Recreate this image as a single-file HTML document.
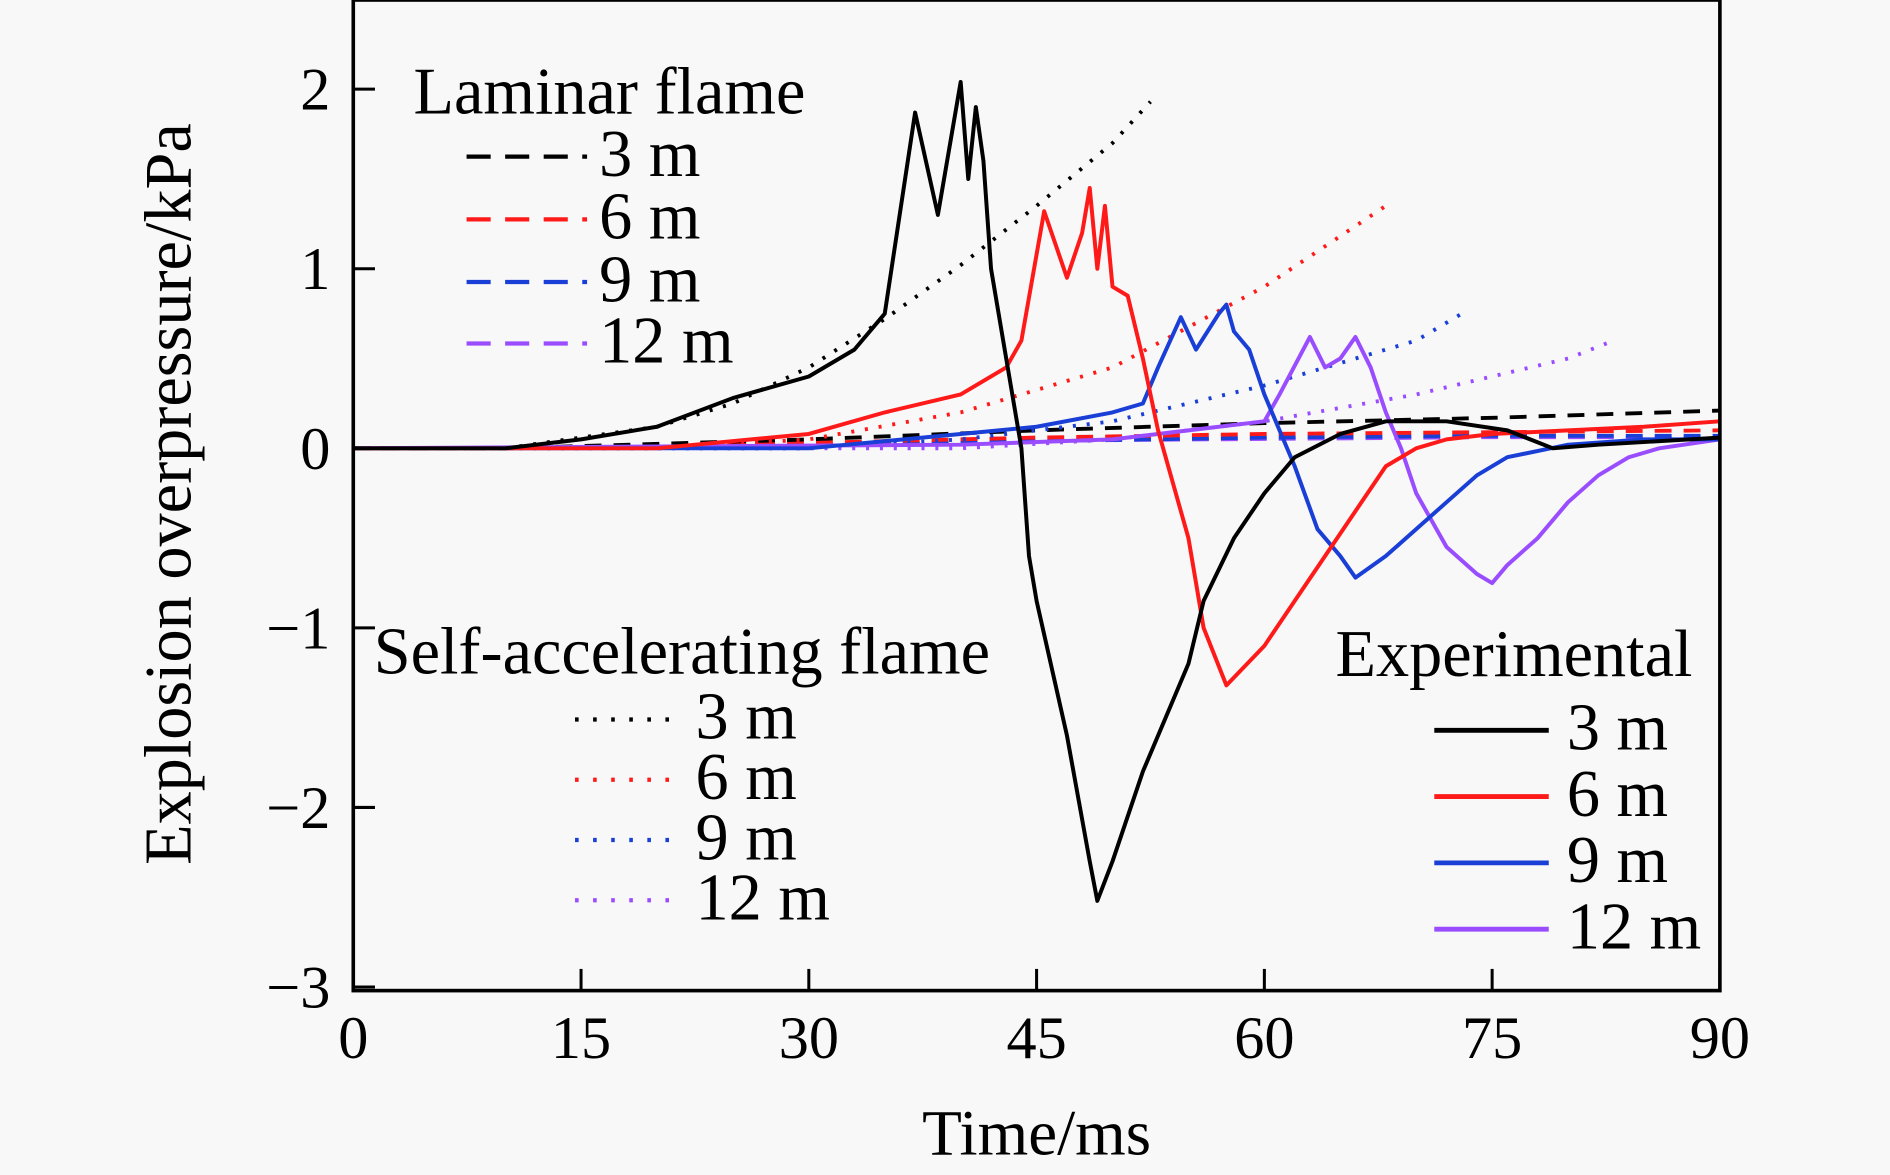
<!DOCTYPE html>
<html><head><meta charset="utf-8"><style>
html,body{margin:0;padding:0;background:#f8f8f8;}
svg{display:block;font-family:"Liberation Serif",serif;}
</style></head><body>
<svg id="chart" width="1890" height="1175" viewBox="0 0 1568 975" xmlns="http://www.w3.org/2000/svg">
<rect x="0" y="0" width="1568" height="975" fill="#f8f8f8"/>
<g id="plot"></g>
<g id="axes"></g>
<g id="legends"></g>
</svg>
<script>
const xTicks=[0,15,30,45,60,75,90];
const yTicks=[2,1,0,-1,-2,-3];
const yTickLabels=["2","1","0","\u22121","\u22122","\u22123"];
const seriesNames=["3 m","6 m","9 m","12 m"];
const colors=["#000000","#ff1a1a","#1a3fd6","#9a4dff"];
const expT3=[0,10,15,20,25,30,33,35,37,38.5,40,40.5,41,41.5,42,43,44,44.5,45,47,48.5,49,50,52,55,56,58,60,62,65,68,72,76,79,82,90];
const expP3=[0,0,0.05,0.12,0.28,0.4,0.55,0.75,1.87,1.3,2.04,1.5,1.9,1.6,1.0,0.5,0,-0.6,-0.85,-1.6,-2.3,-2.52,-2.3,-1.8,-1.2,-0.85,-0.5,-0.25,-0.05,0.08,0.15,0.15,0.1,0,0.02,0.06];
const expT6=[0,20,30,35,40,43,44,45.5,47,48,48.5,49,49.5,50,51,52,53,54,55,56,57.5,60,62,64,66,68,70,72,75,80,85,90];
const expP6=[0,0,0.08,0.2,0.3,0.45,0.6,1.32,0.95,1.2,1.45,1.0,1.35,0.9,0.85,0.5,0.1,-0.2,-0.5,-1.0,-1.32,-1.1,-0.85,-0.6,-0.35,-0.1,0,0.05,0.08,0.1,0.12,0.15];
const expT9=[0,30,40,45,50,52,53,54.5,55.5,57,57.5,58,59,60,62,63.5,65,66,68,70,72,74,76,80,85,90];
const expP9=[0,0,0.08,0.12,0.2,0.25,0.45,0.73,0.55,0.75,0.8,0.65,0.55,0.3,-0.1,-0.45,-0.6,-0.72,-0.6,-0.45,-0.3,-0.15,-0.05,0.02,0.05,0.05];
const expT12=[0,40,50,55,60,61,63,64,65,66,67,68,69,70,72,74,75,76,78,80,82,84,86,90];
const expP12=[0,0.02,0.05,0.1,0.15,0.3,0.62,0.45,0.5,0.62,0.45,0.2,0,-0.25,-0.55,-0.7,-0.75,-0.65,-0.5,-0.3,-0.15,-0.05,0,0.05];
const lamT=[0,10,30,45,60,75,90];
const lamP3=[0,0,0.05,0.1,0.14,0.17,0.21];
const lamP6=[0,0,0.03,0.06,0.08,0.09,0.1];
const lamP9=[0,0,0.02,0.04,0.06,0.07,0.07];
const lamP12=[0,0,0.02,0.04,0.05,0.06,0.06];
const saT3=[0,10,20,25,30,35,40,45,50,52.5];
const saP3=[0,0,0.12,0.25,0.45,0.72,1.02,1.35,1.7,1.93];
const saT6=[0,20,30,40,50,60,68];
const saP6=[0,0,0.05,0.2,0.45,0.9,1.35];
const saT9=[0,30,40,50,60,70,73];
const saP9=[0,0,0.05,0.15,0.35,0.6,0.75];
const saT12=[0,40,50,60,70,80,83];
const saP12=[0,0,0.05,0.15,0.3,0.5,0.6];

const X0=293,X1=1427,Y0=372,YS=149;
function xs(t){return X0+(X1-X0)*t/90;}
function ys(p){return Y0-p*YS;}
const NS="http://www.w3.org/2000/svg";
function mk(tag,attrs,parent){const e=document.createElementNS(NS,tag);for(const k in attrs)e.setAttribute(k,attrs[k]);parent.appendChild(e);return e;}
const plot=document.getElementById('plot');
const axes=document.getElementById('axes');
const leg=document.getElementById('legends');
const cp=mk('clipPath',{id:'clip'},plot);
mk('rect',{x:X0,y:0,width:X1-X0,height:822},cp);
function line(T,P,color,dash,w,name){
  const d=T.map((t,i)=>(i?'L':'M')+xs(t).toFixed(1)+','+ys(P[i]).toFixed(1)).join(' ');
  const p=mk('path',{d:d,fill:'none',stroke:color,'stroke-width':w,'stroke-dasharray':dash,'stroke-linejoin':'round','clip-path':'url(#clip)'},plot);
  
  
}
const lamP=[lamP3,lamP6,lamP9,lamP12];
const saT=[saT3,saT6,saT9,saT12],saP=[saP3,saP6,saP9,saP12];
const expT=[expT3,expT6,expT9,expT12],expP=[expP3,expP6,expP9,expP12];
for(let i=3;i>=0;i--)line(lamT,lamP[i],colors[i],'14,10',i==3?2.5:3.2,'laminar-line-'+(i+1)*3+'m');
for(let i=0;i<4;i++)line(saT[i],saP[i],colors[i],'2.5,9',3.2,'self-accel-line-'+(i+1)*3+'m');
for(let i=3;i>=0;i--)line(expT[i],expP[i],colors[i],'',3.3,'experimental-line-'+(i+1)*3+'m');
const fr=mk('rect',{x:X0,y:0,width:X1-X0,height:822,fill:'none',stroke:'#000','stroke-width':3},axes);

xTicks.forEach(t=>{
  mk('line',{x1:xs(t),x2:xs(t),y1:822,y2:804,stroke:'#000','stroke-width':2.5},axes);
  const tx=mk('text',{x:xs(t),y:878,'font-size':50,'text-anchor':'middle'},axes);tx.textContent=t;
  
});
yTicks.forEach((v,i)=>{
  mk('line',{x1:X0,x2:X0+18,y1:ys(v),y2:ys(v),stroke:'#000','stroke-width':2.5},axes);
  const tx=mk('text',{x:274,y:ys(v)+17,'font-size':50,'text-anchor':'end'},axes);tx.textContent=yTickLabels[i];
  
});
let t1=mk('text',{x:860,y:958,'font-size':54,'text-anchor':'middle'},axes);t1.textContent='Time/ms';

let t2=mk('text',{x:0,y:0,'font-size':55,'text-anchor':'middle',transform:'translate(158,410) rotate(-90)'},axes);t2.textContent='Explosion overpressure/kPa';

function legend(title,tx,ty,lx0,lx1,textX,bases,dash,prefix){
  const t=mk('text',{x:tx,y:ty,'font-size':55},leg);t.textContent=title;
  
  bases.forEach((b,i)=>{
    mk('line',{x1:lx0,x2:lx1,y1:b-16,y2:b-16,stroke:colors[i],'stroke-width':dash==''?4:3.5,'stroke-dasharray':dash},leg);
    const e=mk('text',{x:textX,y:b,'font-size':55},leg);e.textContent=seriesNames[i];
    
  });
}
legend('Laminar flame',343,94,387,487,497,[146,198,250,301],'20,12','laminar');
legend('Self-accelerating flame',310,559,477,565,577,[613,663,713,763],'3,12','self-accelerating');
legend('Experimental',1108,561,1190,1285,1300,[622,677,732,787],'','experimental');
</script>
</body></html>
